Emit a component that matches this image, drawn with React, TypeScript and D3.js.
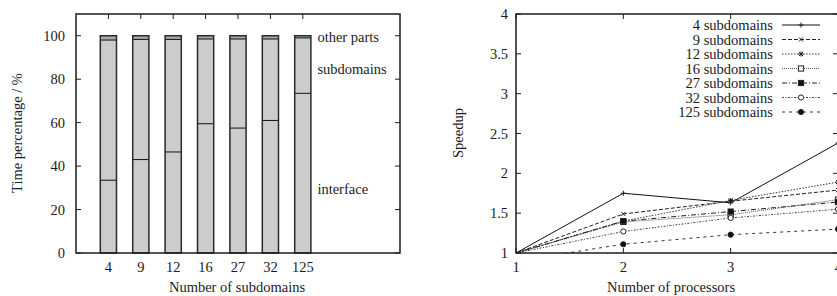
import { useEffect, useRef } from 'react';
import * as d3 from 'd3';

// left chart: share of time per part
const subdomainCounts = ['4', '9', '12', '16', '27', '32', '125'];
const interfacePct = [33.5, 43, 46.5, 59.5, 57.5, 61, 73.5];
const subdomainsPct = [64.5, 55.3, 51.8, 39, 41, 37.5, 25.5];
const otherPartsPct = [2, 1.7, 1.7, 1.5, 1.5, 1.5, 1];
const pctTicks = [0, 20, 40, 60, 80, 100];
const partLabels = [
  { text: 'other parts', y: 99.5 },
  { text: 'subdomains', y: 84.8 },
  { text: 'interface', y: 29.5 },
];

// right chart: speedup vs processors
const processors = [1, 2, 3, 4];
const speedupTicks = [1, 1.5, 2, 2.5, 3, 3.5, 4];
const seriesNames = [
  '4 subdomains', '9 subdomains', '12 subdomains', '16 subdomains',
  '27 subdomains', '32 subdomains', '125 subdomains',
];
const speedup4 = [1, 1.75, 1.63, 2.38];
const speedup9 = [1, 1.49, 1.65, 1.79];
const speedup12 = [1, 1.4, 1.66, 1.89];
const speedup16 = [1, 1.39, 1.48, 1.67];
const speedup27 = [1, 1.4, 1.52, 1.64];
const speedup32 = [1, 1.27, 1.44, 1.55];
const speedup125 = [0.9, 1.11, 1.23, 1.3];

const FONT = '"Liberation Serif", "DejaVu Serif", serif';
const INK = '#1c1c1c';

type Marker = 'plus' | 'cross' | 'star' | 'square' | 'fsquare' | 'circle' | 'fcircle';

function drawMarker(g: d3.Selection<SVGGElement, unknown, null, undefined>, kind: Marker, cx: number, cy: number) {
  const r = 2.6;
  const line = (x1: number, y1: number, x2: number, y2: number) => {
    g.append('line')
      .attr('x1', cx + x1).attr('y1', cy + y1).attr('x2', cx + x2).attr('y2', cy + y2)
      .attr('stroke', '#222').attr('stroke-width', 1);
  };
  if (kind === 'plus' || kind === 'star') {
    line(-r, 0, r, 0);
    line(0, -r, 0, r);
  }
  if (kind === 'cross' || kind === 'star') {
    line(-r * 0.8, -r * 0.8, r * 0.8, r * 0.8);
    line(-r * 0.8, r * 0.8, r * 0.8, -r * 0.8);
  }
  if (kind === 'square' || kind === 'fsquare') {
    g.append('rect')
      .attr('x', cx - r).attr('y', cy - r).attr('width', 2 * r).attr('height', 2 * r)
      .attr('fill', kind === 'fsquare' ? '#111' : 'white')
      .attr('stroke', '#222').attr('stroke-width', 1);
  }
  if (kind === 'circle' || kind === 'fcircle') {
    g.append('circle')
      .attr('cx', cx).attr('cy', cy).attr('r', r)
      .attr('fill', kind === 'fcircle' ? '#111' : 'white')
      .attr('stroke', '#222').attr('stroke-width', 1);
  }
}

export default function App() {
  const svgRef = useRef<SVGSVGElement>(null);

  useEffect(() => {
    if (!svgRef.current) return;
    const svg = d3.select(svgRef.current);
    svg.selectAll('*').remove();

    // ---------- left: stacked bars ----------
    const left = { x0: 76, x1: 400, top: 14, bottom: 253 };
    const bx = d3.scaleLinear().domain([0, 10]).range([left.x0, left.x1]);
    const by = d3.scaleLinear().domain([0, 110]).range([left.bottom, left.top]);
    const gl = svg.append('g');
    const barW = bx(0.5) - bx(0);

    subdomainCounts.forEach((label, i) => {
      const cx = bx(i + 1);
      const a = interfacePct[i];
      const b = a + subdomainsPct[i];
      const c = b + otherPartsPct[i];
      gl.append('rect')
        .attr('x', cx - barW / 2).attr('width', barW)
        .attr('y', by(c)).attr('height', by(b) - by(c))
        .attr('fill', '#a9a9a9');
      gl.append('rect')
        .attr('x', cx - barW / 2).attr('width', barW)
        .attr('y', by(b)).attr('height', by(0) - by(b))
        .attr('fill', '#cccccc');
      [a, b].forEach(v => {
        gl.append('line')
          .attr('x1', cx - barW / 2).attr('x2', cx + barW / 2)
          .attr('y1', by(v)).attr('y2', by(v))
          .attr('stroke', '#111').attr('stroke-width', 1);
      });
      gl.append('rect')
        .attr('x', cx - barW / 2).attr('width', barW)
        .attr('y', by(c)).attr('height', by(0) - by(c))
        .attr('fill', 'none').attr('stroke', '#2a2a2a').attr('stroke-width', 1.5);

      // top mirror tick
      gl.append('line')
        .attr('x1', cx).attr('x2', cx).attr('y1', left.top).attr('y2', left.top + 5)
        .attr('stroke', INK).attr('stroke-width', 1);
      gl.append('text')
        .attr('x', cx).attr('y', 267).attr('dy', '0.35em')
        .attr('text-anchor', 'middle').text(label);
    });

    pctTicks.forEach(t => {
      gl.append('line')
        .attr('x1', left.x0).attr('x2', left.x0 + 5).attr('y1', by(t)).attr('y2', by(t))
        .attr('stroke', INK);
      gl.append('line')
        .attr('x1', left.x1 - 5).attr('x2', left.x1).attr('y1', by(t)).attr('y2', by(t))
        .attr('stroke', INK);
      gl.append('text')
        .attr('x', 65).attr('y', by(t)).attr('dy', '0.35em')
        .attr('text-anchor', 'end').text(t);
    });

    partLabels.forEach(p => {
      gl.append('text')
        .attr('x', bx(7.45)).attr('y', by(p.y)).attr('dy', '0.35em')
        .text(p.text);
    });

    gl.append('rect')
      .attr('x', left.x0).attr('y', left.top)
      .attr('width', left.x1 - left.x0).attr('height', left.bottom - left.top)
      .attr('fill', 'none').attr('stroke', INK).attr('stroke-width', 1.5);

    gl.append('text')
      .attr('x', 237).attr('y', 287).attr('dy', '0.35em')
      .attr('text-anchor', 'middle').text('Number of subdomains');
    gl.append('text')
      .attr('transform', 'translate(17,133) rotate(-90)').attr('dy', '0.35em')
      .attr('text-anchor', 'middle').text('Time percentage / %');

    // ---------- right: speedup lines ----------
    const right = { x0: 516, x1: 838, top: 14, bottom: 253 };
    const px = d3.scaleLinear().domain([1, 4]).range([right.x0, right.x1]);
    const py = d3.scaleLinear().domain([1, 4]).range([right.bottom, right.top]);
    const gr = svg.append('g');

    svg.append('defs').append('clipPath').attr('id', 'plotClip')
      .append('rect')
      .attr('x', right.x0).attr('y', right.top)
      .attr('width', right.x1 - right.x0).attr('height', right.bottom - right.top);

    const allSeries = [speedup4, speedup9, speedup12, speedup16, speedup27, speedup32, speedup125];
    const markers: Marker[] = ['plus', 'cross', 'star', 'square', 'fsquare', 'circle', 'fcircle'];
    const dashes = [null, '4,2', '1.5,1.5', '1,1', '5,2,1,2', '2,1.5,1,1.5', '3,4'];
    const strokes = ['#111', '#222', '#333', '#555', '#222', '#444', '#333'];

    const line = d3.line<number>()
      .x((_, i) => px(processors[i]))
      .y(d => py(d));

    const plot = gr.append('g').attr('clip-path', 'url(#plotClip)');
    allSeries.forEach((s, k) => {
      plot.append('path')
        .datum(s)
        .attr('d', line)
        .attr('fill', 'none')
        .attr('stroke', strokes[k])
        .attr('stroke-width', 1)
        .attr('stroke-dasharray', dashes[k]);
    });
    allSeries.forEach((s, k) => {
      s.forEach((v, i) => {
        if (v < 1 || i === 0) return;
        drawMarker(plot, markers[k], px(processors[i]), py(v));
      });
    });

    speedupTicks.forEach(t => {
      gr.append('line')
        .attr('x1', right.x0).attr('x2', right.x0 + 5).attr('y1', py(t)).attr('y2', py(t))
        .attr('stroke', INK);
      gr.append('line')
        .attr('x1', right.x1 - 5).attr('x2', right.x1).attr('y1', py(t)).attr('y2', py(t))
        .attr('stroke', INK);
      gr.append('text')
        .attr('x', 508).attr('y', py(t)).attr('dy', '0.35em')
        .attr('text-anchor', 'end').text(t);
    });
    processors.forEach(p => {
      gr.append('line')
        .attr('x1', px(p)).attr('x2', px(p)).attr('y1', right.bottom).attr('y2', right.bottom - 5)
        .attr('stroke', INK);
      gr.append('line')
        .attr('x1', px(p)).attr('x2', px(p)).attr('y1', right.top).attr('y2', right.top + 5)
        .attr('stroke', INK);
      gr.append('text')
        .attr('x', px(p)).attr('y', 267).attr('dy', '0.35em')
        .attr('text-anchor', 'middle').text(p);
    });

    gr.append('rect')
      .attr('x', right.x0).attr('y', right.top)
      .attr('width', right.x1 - right.x0).attr('height', right.bottom - right.top)
      .attr('fill', 'none').attr('stroke', INK).attr('stroke-width', 1.5);

    // legend
    seriesNames.forEach((name, k) => {
      const y = 25 + k * 14.5;
      gr.append('text')
        .attr('x', 773).attr('y', y).attr('dy', '0.35em')
        .attr('text-anchor', 'end').text(name);
      gr.append('line')
        .attr('x1', 782).attr('x2', 820).attr('y1', y).attr('y2', y)
        .attr('stroke', strokes[k]).attr('stroke-width', 1)
        .attr('stroke-dasharray', dashes[k]);
      drawMarker(gr, markers[k], 801, y);
    });

    gr.append('text')
      .attr('x', 671).attr('y', 287).attr('dy', '0.35em')
      .attr('text-anchor', 'middle').text('Number of processors');
    gr.append('text')
      .attr('transform', 'translate(458,133) rotate(-90)').attr('dy', '0.35em')
      .attr('text-anchor', 'middle').text('Speedup');
  }, []);

  return (
    <svg
      ref={svgRef}
      width={837}
      height={296}
      style={{ position: 'absolute', left: 0, top: 0, background: 'white' }}
      fontFamily={FONT}
      fontSize={14.5}
      fill={INK}
    />
  );
}
